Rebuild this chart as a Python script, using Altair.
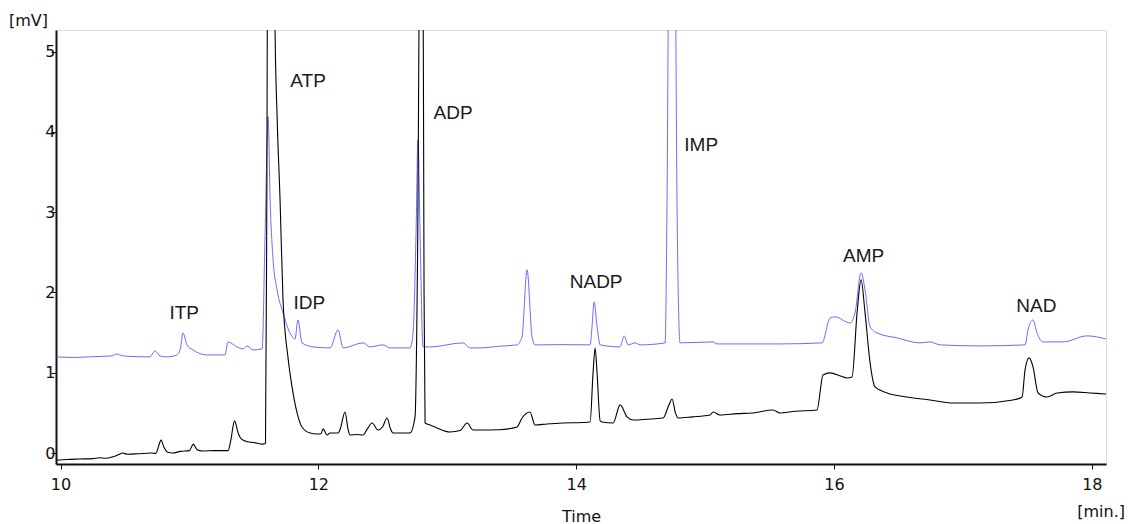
import altair as alt
import pandas as pd

# ---- black trace (time in min, signal in mV) ----
black_t = [9.97, 10.05, 10.15, 10.25, 10.30, 10.35, 10.40, 10.45, 10.48, 10.52, 10.60, 10.70, 10.74,
           10.76, 10.78, 10.80, 10.83, 10.87, 10.93, 11.00, 11.03, 11.06, 11.10, 11.20, 11.30, 11.32,
           11.35, 11.38, 11.40, 11.45, 11.50, 11.57, 11.59, 11.60, 11.61, 11.655, 11.664, 11.68, 11.703,
           11.726, 11.765, 11.796, 11.835, 11.873, 11.936, 11.99, 12.02, 12.037, 12.068, 12.091, 12.153,
           12.17, 12.207, 12.23, 12.246, 12.30, 12.347, 12.38, 12.417, 12.463, 12.50, 12.533, 12.56,
           12.58, 12.65, 12.711, 12.75, 12.77, 12.79, 12.81, 12.82, 12.828, 12.867, 12.921, 13.022,
           13.10, 13.154, 13.20, 13.254, 13.40, 13.541, 13.58, 13.642, 13.681, 13.774, 13.898, 14.05,
           14.108, 14.131, 14.147, 14.162, 14.186, 14.201, 14.287, 14.341, 14.395, 14.442, 14.55,
           14.674, 14.72, 14.744, 14.77, 14.791, 14.90, 15.039, 15.062, 15.116, 15.25, 15.372, 15.527,
           15.581, 15.70, 15.868, 15.915, 15.97, 16.05, 16.101, 16.140, 16.179, 16.210, 16.241, 16.280,
           16.318, 16.412, 16.567, 16.745, 16.924, 17.133, 17.389, 17.459, 17.482, 17.513, 17.544,
           17.583, 17.653, 17.731, 17.855, 17.986, 18.11]
black_mv = [-0.09, -0.08, -0.075, -0.07, -0.06, -0.065, -0.05, -0.02, 0.0, -0.015, -0.01, 0.0, -0.005,
            0.08, 0.16, 0.08, 0.01, 0.0, 0.02, 0.03, 0.11, 0.04, 0.025, 0.03, 0.03, 0.15,
            0.40, 0.24, 0.18, 0.14, 0.13, 0.11, 0.12, 3.0, 8.0, 8.0, 5.3, 4.2, 3.155,
            1.908, 1.185, 0.823, 0.499, 0.324, 0.249, 0.237, 0.24, 0.30, 0.224, 0.25, 0.249,
            0.30, 0.511, 0.30, 0.224, 0.23, 0.224, 0.30, 0.374, 0.287, 0.33, 0.436, 0.30,
            0.249, 0.25, 0.25, 0.45, 2.5, 7.0, 7.0, 2.0, 0.374, 0.349, 0.312, 0.262,
            0.28, 0.374, 0.287, 0.287, 0.29, 0.324, 0.436, 0.511, 0.349, 0.362, 0.374, 0.38,
            0.387, 0.998, 1.309, 1.0, 0.40, 0.387, 0.374, 0.599, 0.449, 0.411, 0.42,
            0.436, 0.60, 0.673, 0.50, 0.436, 0.45, 0.474, 0.511, 0.474, 0.49, 0.499, 0.536,
            0.499, 0.52, 0.536, 0.973, 0.998, 0.96, 0.935, 0.948, 1.746, 2.157, 1.746, 1.122,
            0.823, 0.748, 0.698, 0.661, 0.623, 0.623, 0.661, 0.698, 1.035, 1.185, 1.072,
            0.748, 0.698, 0.748, 0.761, 0.748, 0.736]

# ---- blue trace ----
blue_t = [9.97, 10.10, 10.25, 10.40, 10.438, 10.48, 10.60, 10.694, 10.733, 10.772, 10.826, 10.904,
          10.93, 10.950, 10.981, 11.028, 11.137, 11.276, 11.299, 11.369, 11.416, 11.447, 11.494,
          11.564, 11.587, 11.610, 11.626, 11.649, 11.680, 11.726, 11.780, 11.819, 11.842, 11.873,
          11.959, 12.091, 12.153, 12.192, 12.347, 12.401, 12.502, 12.556, 12.711, 12.735, 12.758,
          12.773, 12.789, 12.812, 12.867, 13.123, 13.177, 13.254, 13.40, 13.541, 13.580, 13.619,
          13.658, 13.681, 13.90, 14.108, 14.123, 14.139, 14.162, 14.186, 14.341, 14.372, 14.403,
          14.457, 14.496, 14.690, 14.705, 14.721, 14.765, 14.783, 14.806, 15.062, 15.093, 15.581,
          15.907, 15.970, 16.008, 16.125, 16.163, 16.210, 16.241, 16.280, 16.334, 16.489, 16.668,
          16.745, 16.823, 17.133, 17.482, 17.505, 17.544, 17.575, 17.622, 17.777, 17.963, 18.11]
blue_mv = [1.197, 1.19, 1.20, 1.21, 1.234, 1.21, 1.20, 1.197, 1.272, 1.209, 1.197, 1.222,
           1.30, 1.496, 1.347, 1.284, 1.222, 1.222, 1.384, 1.322, 1.297, 1.334, 1.284,
           1.297, 2.743, 4.19, 3.155, 2.406, 2.03, 1.746, 1.496, 1.421, 1.658, 1.372,
           1.322, 1.309, 1.534, 1.309, 1.372, 1.322, 1.347, 1.309, 1.309, 1.496, 2.743,
           3.903, 2.743, 1.322, 1.322, 1.372, 1.309, 1.309, 1.33, 1.347, 1.446, 2.282,
           1.446, 1.347, 1.35, 1.347, 1.571, 1.883, 1.571, 1.347, 1.322, 1.459, 1.347,
           1.372, 1.347, 1.372, 3.155, 6.5, 6.5, 3.0, 1.372, 1.384, 1.359, 1.359,
           1.372, 1.683, 1.696, 1.621, 1.746, 2.244, 2.032, 1.571, 1.496, 1.434, 1.372,
           1.384, 1.347, 1.334, 1.347, 1.534, 1.658, 1.496, 1.384, 1.384, 1.459, 1.421]

# ---- peak labels ----
peak_names = ["ITP", "ATP", "IDP", "ADP", "NADP", "IMP", "AMP", "NAD"]
peak_t = [10.96, 11.92, 11.93, 13.045, 14.155, 14.97, 16.23, 17.57]
peak_mv = [1.75, 4.63, 1.87, 4.23, 2.13, 3.84, 2.46, 1.83]

x_ticks = [10, 12, 14, 16, 18]
y_ticks = [0, 1, 2, 3, 4, 5]

black_df = pd.DataFrame({"t": black_t, "mv": black_mv})
blue_df = pd.DataFrame({"t": blue_t, "mv": blue_mv})
lab_df = pd.DataFrame({"name": peak_names, "t": peak_t, "mv": peak_mv})

FONT = "DejaVu Sans"
xs = alt.Scale(domain=[9.965, 18.11], nice=False, zero=False)
ys = alt.Scale(domain=[-0.137, 5.27], nice=False, zero=False)

x_axis = alt.Axis(values=x_ticks, format="d", title="Time", titleFont=FONT, titleFontSize=16,
                  titleFontWeight="normal", titleColor="#111", titlePadding=16,
                  labelFont=FONT, labelFontSize=16, labelColor="#111", labelPadding=7,
                  tickSize=5, tickColor="#111", domainColor="#111", domainWidth=2,
                  grid=False, labelFlush=False)
y_axis = alt.Axis(values=y_ticks, format="d", title=None, labelFont=FONT, labelFontSize=16,
                  labelColor="#111", labelPadding=-4, tickSize=5, tickColor="#111",
                  domainColor="#111", domainWidth=2, grid=False, labelFlush=False)

blue_line = alt.Chart(blue_df).mark_line(color="#6b6bff", strokeWidth=1, clip=True,
                                         interpolate="monotone").encode(
    x=alt.X("t:Q", scale=xs, axis=x_axis),
    y=alt.Y("mv:Q", scale=ys, axis=y_axis),
)
black_line = alt.Chart(black_df).mark_line(color="#000000", strokeWidth=1.1, clip=True,
                                           interpolate="monotone").encode(
    x=alt.X("t:Q", scale=xs),
    y=alt.Y("mv:Q", scale=ys),
)
labels = alt.Chart(lab_df).mark_text(font="Liberation Sans", fontSize=19, color="#1a1a1a",
                                     align="center", baseline="middle").encode(
    x=alt.X("t:Q", scale=xs),
    y=alt.Y("mv:Q", scale=ys),
    text="name:N",
)
unit_y = alt.Chart(pd.DataFrame({"s": ["[mV]"]})).mark_text(
    font=FONT, fontSize=16, color="#111", align="left", baseline="middle").encode(
    x=alt.value(-47), y=alt.value(-9), text="s:N")
unit_x = alt.Chart(pd.DataFrame({"s": ["[min.]"]})).mark_text(
    font=FONT, fontSize=16, color="#111", align="right", baseline="middle").encode(
    x=alt.value(1069), y=alt.value(482), text="s:N")

chart = alt.layer(blue_line, black_line, labels, unit_y, unit_x).properties(
    width=1050, height=434,
    autosize=alt.AutoSizeParams(type="none"),
    padding={"left": 56, "top": 30, "right": 23, "bottom": 60},
).configure_view(stroke="#111", strokeWidth=1.5).configure(background="white")

chart.save("out.html", embed_options={"renderer": "svg", "actions": False})
